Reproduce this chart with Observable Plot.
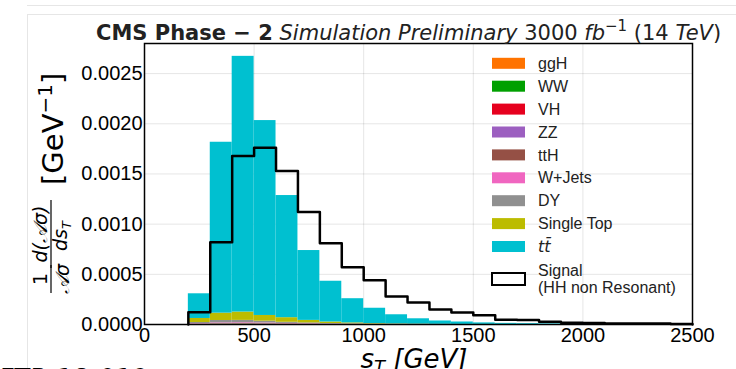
<!DOCTYPE html>
<html>
<head>
<meta charset="utf-8">
<script src="https://cdn.jsdelivr.net/npm/d3@7"></script>
<script src="https://cdn.jsdelivr.net/npm/@observablehq/plot@0.6"></script>
<style>
  html, body { margin: 0; padding: 0; background: white; }
  #chart { width: 736px; height: 369px; overflow: hidden; }
</style>
</head>
<body>
<div id="chart"></div>
<script>
// ---- data ----
const binLow = [200, 300, 400, 500, 600, 700, 800, 900, 1000, 1100, 1200, 1300, 1400, 1500, 1600, 1700, 1800, 1900, 2000, 2100, 2200, 2300, 2400];
const binWidth = 100;
const procs = ["ggH", "WW", "VH", "ZZ", "ttH", "W+Jets", "DY", "Single Top", "tt̄"];
const procColors = ["#ff7300", "#00a000", "#e6001e", "#9c5fc0", "#955045", "#f066c0", "#909090", "#bcbc00", "#00c0d0"];
const ggH   = [0, 0.000001, 0.000001, 0.000001, 0.000001, 0, 0, 0, 0, 0, 0, 0, 0, 0, 0, 0, 0, 0, 0, 0, 0, 0, 0];
const WW    = [0.000002, 0.000003, 0.000003, 0.000002, 0.000002, 0.000001, 0.000001, 0.000001, 0, 0, 0, 0, 0, 0, 0, 0, 0, 0, 0, 0, 0, 0, 0];
const VH    = [0, 0.000001, 0.000001, 0.000001, 0.000001, 0.000001, 0, 0, 0, 0, 0, 0, 0, 0, 0, 0, 0, 0, 0, 0, 0, 0, 0];
const ZZ    = [0.000001, 0.000001, 0.000001, 0.000001, 0, 0, 0, 0, 0, 0, 0, 0, 0, 0, 0, 0, 0, 0, 0, 0, 0, 0, 0];
const ttH   = [0.000001, 0.000002, 0.000003, 0.000003, 0.000002, 0.000002, 0.000001, 0.000001, 0, 0, 0, 0, 0, 0, 0, 0, 0, 0, 0, 0, 0, 0, 0];
const WJets = [0.000005, 0.000008, 0.000008, 0.000007, 0.000005, 0.000004, 0.000003, 0.000002, 0.000001, 0.000001, 0, 0, 0, 0, 0, 0, 0, 0, 0, 0, 0, 0, 0];
const DY    = [0.000011, 0.000024, 0.000024, 0.000018, 0.000011, 0.000008, 0.000005, 0.000003, 0.000002, 0.000001, 0.000001, 0, 0, 0, 0, 0, 0, 0, 0, 0, 0, 0, 0];
const singleTop = [0.00004, 0.000073, 0.000083, 0.000057, 0.000046, 0.000025, 0.000015, 0.000009, 0.000006, 0.000004, 0.000003, 0.000002, 0.000001, 0.000001, 0.000001, 0, 0, 0, 0, 0, 0, 0, 0];
const ttbar = [0.000246, 0.001703, 0.002548, 0.001942, 0.001217, 0.000696, 0.000406, 0.000241, 0.000153, 0.000091, 0.000053, 0.000033, 0.000024, 0.000015, 0.00001, 0.000008, 0.000006, 0.000005, 0.000004, 0.000003, 0.000002, 0.000002, 0.000001];
const signal = [0.000123, 0.00082, 0.00168, 0.00176, 0.00153, 0.00112, 0.00081, 0.00057, 0.00044, 0.00028, 0.00022, 0.00015, 0.00012, 0.000093, 0.000047, 0.000045, 0.000028, 0.000018, 0.000016, 0.000011, 0.00001, 0.000009, 0.000005];
const xTicks = [0, 500, 1000, 1500, 2000, 2500];
const yTicks = [0, 0.0005, 0.001, 0.0015, 0.002, 0.0025];
const signalLabel = ["Signal", "(HH non Resonant)"];

// ---- build tables ----
const series = [ggH, WW, VH, ZZ, ttH, WJets, DY, singleTop, ttbar];
const stackData = [];
procs.forEach((p, i) => {
  binLow.forEach((lo, j) => {
    stackData.push({proc: p, x1: lo, x2: lo + binWidth, y: series[i][j]});
  });
});
const sigPts = [{x: binLow[0], y: 0}];
binLow.forEach((lo, j) => sigPts.push({x: lo, y: signal[j]}));
sigPts.push({x: binLow[binLow.length - 1] + binWidth, y: signal[signal.length - 1]});
sigPts.push({x: binLow[binLow.length - 1] + binWidth, y: 0});

const svg = Plot.plot({
  width: 736,
  height: 369,
  marginLeft: 144,
  marginRight: 44,
  marginTop: 43,
  marginBottom: 45,
  style: {fontFamily: "'Liberation Sans', Arial, sans-serif", fontSize: "20px", background: "white", color: "black"},
  x: {domain: [0, 2500]},
  y: {domain: [0, 0.0028]},
  color: {domain: procs, range: procColors},
  marks: [
    Plot.gridX(xTicks, {stroke: "#000", strokeOpacity: 0.1, strokeWidth: 1}),
    Plot.gridY(yTicks, {stroke: "#000", strokeOpacity: 0.1, strokeWidth: 1}),
    Plot.rectY(stackData, {x1: "x1", x2: "x2", y: "y", fill: "proc", order: procs}),
    Plot.line(sigPts, {x: "x", y: "y", curve: "step-after", stroke: "black", strokeWidth: 2.5}),
    Plot.frame({stroke: "black", strokeWidth: 1.5}),
    Plot.axisX(xTicks, {tickSize: 0, tickPadding: 3, fontSize: 20, label: null, tickFormat: d => String(d)}),
    Plot.axisY(yTicks, {tickSize: 0, tickPadding: 2, fontSize: 20, label: null, tickFormat: d3.format(".4f")})
  ]
});
document.getElementById("chart").appendChild(svg);

// ---- annotations ----
const s = d3.select(svg);
const g0 = s.insert("g", ":first-child");
g0.append("line").attr("x1", 27).attr("x2", 736).attr("y1", 5.5).attr("y2", 5.5).attr("stroke", "#e6e6e6");
g0.append("line").attr("x1", 27).attr("x2", 736).attr("y1", 14.5).attr("y2", 14.5).attr("stroke", "#e6e6e6");
g0.append("line").attr("x1", 27.5).attr("x2", 27.5).attr("y1", 14).attr("y2", 369).attr("stroke", "#e6e6e6");

// title
const t = s.append("text").attr("x", 96).attr("y", 40).attr("text-anchor", "start")
  .attr("font-family", "'DejaVu Sans', sans-serif").attr("font-size", 21).attr("fill", "#222");
t.append("tspan").attr("font-weight", "bold").text("CMS Phase − 2");
t.append("tspan").attr("font-style", "italic").text(" Simulation Preliminary");
t.append("tspan").text(" 3000 ");
t.append("tspan").attr("font-style", "italic").text("fb");
t.append("tspan").attr("font-size", 15).attr("dy", -9).text("−1");
t.append("tspan").attr("dy", 9).text(" (14 ");
t.append("tspan").attr("font-style", "italic").text("TeV");
t.append("tspan").text(")");

// x label
const xl = s.append("text").attr("x", 414).attr("y", 368).attr("text-anchor", "middle")
  .attr("font-family", "'DejaVu Sans', sans-serif").attr("font-size", 26).attr("font-style", "italic").attr("fill", "black");
xl.append("tspan").text("s");
xl.append("tspan").attr("font-size", 18).attr("dy", 5).text("T");
xl.append("tspan").attr("dy", -5).text(" [GeV]");

// y label (rotated)
const yl = s.append("g").attr("transform", "translate(51,0) rotate(-90)")
  .attr("font-family", "'DejaVu Sans', sans-serif").attr("fill", "black");
yl.append("text").attr("x", -279).attr("y", -4).attr("text-anchor", "middle").attr("font-size", 19).text("1");
yl.append("text").attr("x", -279).attr("y", 18).attr("text-anchor", "middle").attr("font-size", 19).attr("font-style", "italic").text("𝒜σ");
yl.append("line").attr("x1", -293).attr("x2", -265).attr("y1", 0).attr("y2", 0).attr("stroke", "black").attr("stroke-width", 1.2);
yl.append("text").attr("x", -234).attr("y", -4).attr("text-anchor", "middle").attr("font-size", 19).attr("font-style", "italic").text("d(𝒜σ)");
const ds = yl.append("text").attr("x", -236).attr("y", 16).attr("text-anchor", "middle").attr("font-size", 19).attr("font-style", "italic");
ds.append("tspan").text("ds");
ds.append("tspan").attr("font-size", 13).attr("dy", 4).text("T");
yl.append("line").attr("x1", -268).attr("x2", -200).attr("y1", 0).attr("y2", 0).attr("stroke", "black").attr("stroke-width", 1.2);
const gv = yl.append("text").attr("x", -185).attr("y", 12).attr("font-size", 29).attr("text-anchor", "start");
gv.append("tspan").text("[GeV");
gv.append("tspan").attr("font-size", 20).attr("dy", -11).text("−1");
gv.append("tspan").attr("dy", 11).text("]");

// legend
const lg = s.append("g").attr("font-family", "'Liberation Sans', Arial, sans-serif").attr("font-size", 16).attr("fill", "#222").attr("text-anchor", "start");
procs.forEach((p, i) => {
  const cy = 63.3 + i * 22.9;
  lg.append("rect").attr("x", 492).attr("y", cy - 5.5).attr("width", 33).attr("height", 11).attr("fill", procColors[i]);
  const tx = lg.append("text").attr("x", 538).attr("y", cy).attr("dy", "0.35em").text(p);
  if (p === "tt̄") tx.attr("font-family", "'DejaVu Sans', sans-serif").attr("font-style", "italic");
});
lg.append("rect").attr("x", 492).attr("y", 273).attr("width", 33).attr("height", 12).attr("fill", "white").attr("stroke", "black").attr("stroke-width", 2);
lg.append("text").attr("x", 538).attr("y", 270).attr("dy", "0.35em").text(signalLabel[0]);
lg.append("text").attr("x", 538).attr("y", 287.5).attr("dy", "0.35em").text(signalLabel[1]);

// clipped footer text
s.append("text").attr("x", 0).attr("y", 388).attr("text-anchor", "start").attr("font-family", "'DejaVu Sans', sans-serif").attr("font-size", 26).attr("fill", "black").text("FTR-18-019");
</script>
</body>
</html>
